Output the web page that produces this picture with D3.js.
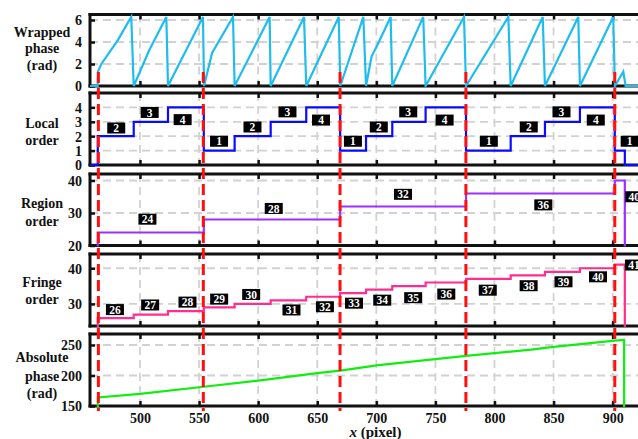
<!DOCTYPE html>
<html><head><meta charset="utf-8">
<script src="https://cdn.jsdelivr.net/npm/d3@7"></script>
<style>body{margin:0;background:#fff}svg{display:block}</style>
</head><body><svg id="c" width="638" height="439"></svg>
<script>
// ---------------- DATA ----------------
const xTicks = [500, 550, 600, 650, 700, 750, 800, 850, 900];
const regionBoundaries = [464.8, 553.6, 669.3, 775.8, 901.8];

// start of each fringe period (x, pixel) and the end of the last one
const stepEdges = [464.3, 494.7, 523.7, 554.0, 580.1, 610.6, 640.7, 669.4, 691.3, 713.5, 741.7, 775.9, 813.7, 842.7, 872.3, 901.8];
const stepEnd = 910.3;
const localOrder  = [2, 3, 4, 1, 2, 3, 4, 1, 2, 3, 4, 1, 2, 3, 4, 1];
const regionOrder = [24, 24, 24, 28, 28, 28, 28, 32, 32, 32, 32, 36, 36, 36, 36, 40];
const fringeOrder = [26, 27, 28, 29, 30, 31, 32, 33, 34, 35, 36, 37, 38, 39, 40, 41];

// wrapped phase (x, rad)
const wrappedPhase = [
  [457.7, 0], [464.2, 0], [464.4, 1.3], [467.3, 2.0], [481.4, 4.2], [492.6, 6.28], [494.7, 0],
  [508, 3.3], [522.3, 6.28], [523.7, 0],
  [553.3, 6.28], [554.2, 0],
  [561, 3.0], [578.7, 6.28], [580.1, 0],
  [609.7, 6.28], [610.6, 0],
  [638.8, 6.28], [640.7, 0],
  [668.2, 6.28], [669.5, 0],
  [689.0, 6.28], [691.3, 0],
  [696, 2.7], [700.3, 3.6], [712.1, 6.28], [713.5, 0],
  [739.7, 6.28], [741.7, 0],
  [774.2, 6.28], [775.9, 0],
  [811.7, 6.28], [813.7, 0],
  [840.8, 6.28], [842.7, 0],
  [870.9, 6.28], [872.3, 0],
  [900.5, 6.28], [901.9, 0],
  [909, 1.3], [911, 0], [925, 0]
];

// absolute phase (x, rad)
const absolutePhase = [
  [457.7, 0], [464.3, 0], [464.3, 164], [500, 170], [554, 181.5], [600, 191.5], [650, 204],
  [669.4, 208], [693, 214.5], [700, 216.5], [775.9, 232], [831, 242.5], [848, 246.5],
  [901.8, 257], [909.7, 258.2], [909.7, 0], [925, 0]
];

// label annotations (data coordinates)
const localLabelX = [479.9, 508.2, 536.1, 566.9, 595.2, 624.8, 653.2, 680.2, 702.1, 727.0, 757.8, 795.2, 829.0, 856.7, 885.7, 914.4];
const localLabelY = [2.57, 3.65, 3.15, 1.65, 2.64, 3.69, 3.12, 1.65, 2.64, 3.69, 3.12, 1.65, 2.64, 3.69, 3.12, 1.65];
const regionLabelText = [24, 28, 32, 36, 40];
const regionLabelX = [506.3, 613.2, 722.6, 841.3, 918.3];
const regionLabelY = [28.1, 31.4, 35.75, 32.5, 35.0];
const fringeLabelX = [478.8, 508.6, 540.2, 567.0, 594.1, 628.2, 656.5, 681.1, 705.0, 731.2, 759.2, 794.3, 828.9, 858.4, 887.6, 918.0];
const fringeLabelY = [28.4, 29.7, 30.5, 31.35, 32.65, 28.3, 29.2, 30.2, 31.05, 31.75, 32.75, 33.85, 35.1, 36.2, 37.6, 40.9];

// ---------------- DRAW ----------------
const FONT = '"Liberation Serif","Times New Roman",serif';
const svg = d3.select('#c');
const X0 = 457.7, X1 = 925;
const x = d3.scaleLinear().domain([X0, X1]).range([90, 642.2]);

function stepPoints(values) {
  const pts = [[X0, 0]];
  stepEdges.forEach((e, i) => pts.push([e, values[i]]));
  pts.push([stepEnd, 0], [X1, 0]);
  return pts;
}

const panels = [
  {top: 14.5, bottom: 86, domain: [0, 6.5], ticks: [0, 2, 4, 6], title: ['Wrapped', 'phase', '(rad)'], titleY: [32, 48.5, 65],
   series: [{pts: wrappedPhase, color: '#1fbcf0', curve: d3.curveLinear}]},
  {top: 93, bottom: 165, domain: [0, 5], ticks: [0, 1, 2, 3, 4], title: ['Local', 'order'], titleY: [123, 139.7],
   series: [{pts: stepPoints(localOrder), color: '#0a0aff', curve: d3.curveStepAfter}],
   labels: localOrder.map((t, i) => ({t, x: localLabelX[i], y: localLabelY[i]}))},
  {top: 174, bottom: 245.5, domain: [20, 42], ticks: [20, 30, 40], title: ['Region', 'order'], titleY: [203.3, 220.7],
   series: [{pts: stepPoints(regionOrder), color: '#9b30ff', curve: d3.curveStepAfter}],
   labels: regionLabelText.map((t, i) => ({t, x: regionLabelX[i], y: regionLabelY[i]}))},
  {top: 254, bottom: 326, domain: [23.8, 44], ticks: [30, 40], title: ['Fringe', 'order'], titleY: [281.7, 299.3],
   series: [{pts: stepPoints(fringeOrder), color: '#ff2d8f', curve: d3.curveStepAfter}],
   labels: fringeOrder.map((t, i) => ({t, x: fringeLabelX[i], y: fringeLabelY[i]}))},
  {top: 334, bottom: 406, domain: [150, 268], ticks: [150, 200, 250], title: ['Absolute', 'phase', '(rad)'], titleY: [357.3, 375.7, 393.3],
   series: [{pts: absolutePhase, color: '#10ee10', curve: d3.curveLinear}]}
];

const defs = svg.append('defs');

panels.forEach((p, pi) => {
  const y = d3.scaleLinear().domain(p.domain).range([p.bottom, p.top]);
  const g = svg.append('g');
  const L = x.range()[0], R = x.range()[1];

  // grid
  g.append('g').selectAll('line').data(xTicks).join('line')
    .attr('x1', d => x(d)).attr('x2', d => x(d)).attr('y1', p.top).attr('y2', p.bottom)
    .attr('stroke', '#d2d2d2').attr('stroke-width', 1.8).attr('stroke-dasharray', '8,5');
  g.append('g').selectAll('line').data(p.ticks.filter(t => t !== p.domain[0])).join('line')
    .attr('x1', L).attr('x2', R).attr('y1', d => y(d)).attr('y2', d => y(d))
    .attr('stroke', '#d2d2d2').attr('stroke-width', 1.8).attr('stroke-dasharray', '8,5');

  // frame
  const frame = g.append('g').attr('stroke', '#111').attr('stroke-width', 3).attr('stroke-linecap', 'square');
  frame.append('line').attr('x1', L).attr('x2', R).attr('y1', p.top).attr('y2', p.top);
  frame.append('line').attr('x1', L).attr('x2', R).attr('y1', p.bottom).attr('y2', p.bottom);
  frame.append('line').attr('x1', L).attr('x2', L).attr('y1', p.top).attr('y2', p.bottom);

  // inward ticks top/bottom
  const tTop = g.append('g').attr('transform', `translate(0,${p.top})`)
    .call(d3.axisBottom(x).tickValues(xTicks).tickSize(5).tickFormat(''));
  const tBot = g.append('g').attr('transform', `translate(0,${p.bottom})`)
    .call(d3.axisTop(x).tickValues(xTicks).tickSize(5).tickFormat(''));
  // left axis with inward ticks
  const yAx = g.append('g').attr('transform', `translate(${L},0)`)
    .call(d3.axisLeft(y).tickValues(p.ticks).tickSize(-5).tickPadding(8).tickFormat(d3.format('d')));
  [tTop, tBot, yAx].forEach(a => {
    a.select('.domain').remove();
    a.selectAll('.tick line').attr('stroke', '#111').attr('stroke-width', 2.5);
  });
  yAx.selectAll('.tick text').attr('font-family', FONT).attr('font-size', 14).attr('font-weight', 'bold')
    .attr('fill', '#111').attr('dy', '0.35em');

  // title
  g.append('g').selectAll('text').data(p.title).join('text')
    .attr('x', 42).attr('y', (d, i) => p.titleY[i]).attr('dy', '0.35em')
    .attr('text-anchor', 'middle').attr('font-family', FONT).attr('font-size', 14).attr('font-weight', 'bold')
    .attr('fill', '#111').text(d => d);

  // clip
  const cid = 'clip' + pi;
  defs.append('clipPath').attr('id', cid).append('rect')
    .attr('x', L).attr('y', p.top - 2).attr('width', R - L).attr('height', p.bottom - p.top + 3);

  const line = d3.line().x(d => x(d[0])).y(d => y(d[1]));
  p.series.forEach(s => {
    g.append('path').attr('clip-path', `url(#${cid})`)
      .attr('d', line.curve(s.curve)(s.pts))
      .attr('fill', 'none').attr('stroke', s.color).attr('stroke-width', 2.2).attr('stroke-linejoin', 'miter');
  });

  if (p.labels) {
    const lg = g.append('g').selectAll('g').data(p.labels).join('g')
      .attr('transform', d => `translate(${x(d.x)},${y(d.y)})`);
    lg.append('rect').attr('x', -9).attr('y', -5.5).attr('width', 18).attr('height', 11).attr('fill', '#000');
    lg.append('text').attr('text-anchor', 'middle').attr('dy', '0.36em')
      .attr('font-family', FONT).attr('font-size', 11.5).attr('font-weight', 'bold').attr('fill', '#fff')
      .text(d => d.t);
  }

  if (pi === panels.length - 1) {
    const xa = g.append('g').attr('transform', `translate(0,${p.bottom})`)
      .call(d3.axisBottom(x).tickValues(xTicks).tickSize(0).tickPadding(7).tickFormat(d3.format('d')));
    xa.select('.domain').remove();
    xa.selectAll('.tick text').attr('font-family', FONT).attr('font-size', 14).attr('font-weight', 'bold').attr('fill', '#111');
  }
});

// x title
const xt = svg.append('text').attr('x', 375.5).attr('y', 431.5).attr('dy', '0.35em')
  .attr('text-anchor', 'middle').attr('font-family', FONT).attr('font-size', 15).attr('font-weight', 'bold').attr('fill', '#111');
xt.append('tspan').attr('font-style', 'italic').text('x');
xt.append('tspan').text(' (pixel)');

// red dashed region boundaries
svg.append('g').selectAll('line').data(regionBoundaries).join('line')
  .attr('x1', d => x(d)).attr('x2', d => x(d)).attr('y1', 72).attr('y2', 411)
  .attr('stroke', '#ff1010').attr('stroke-width', 3).attr('stroke-dasharray', '11,5');
</script>
</body></html>
